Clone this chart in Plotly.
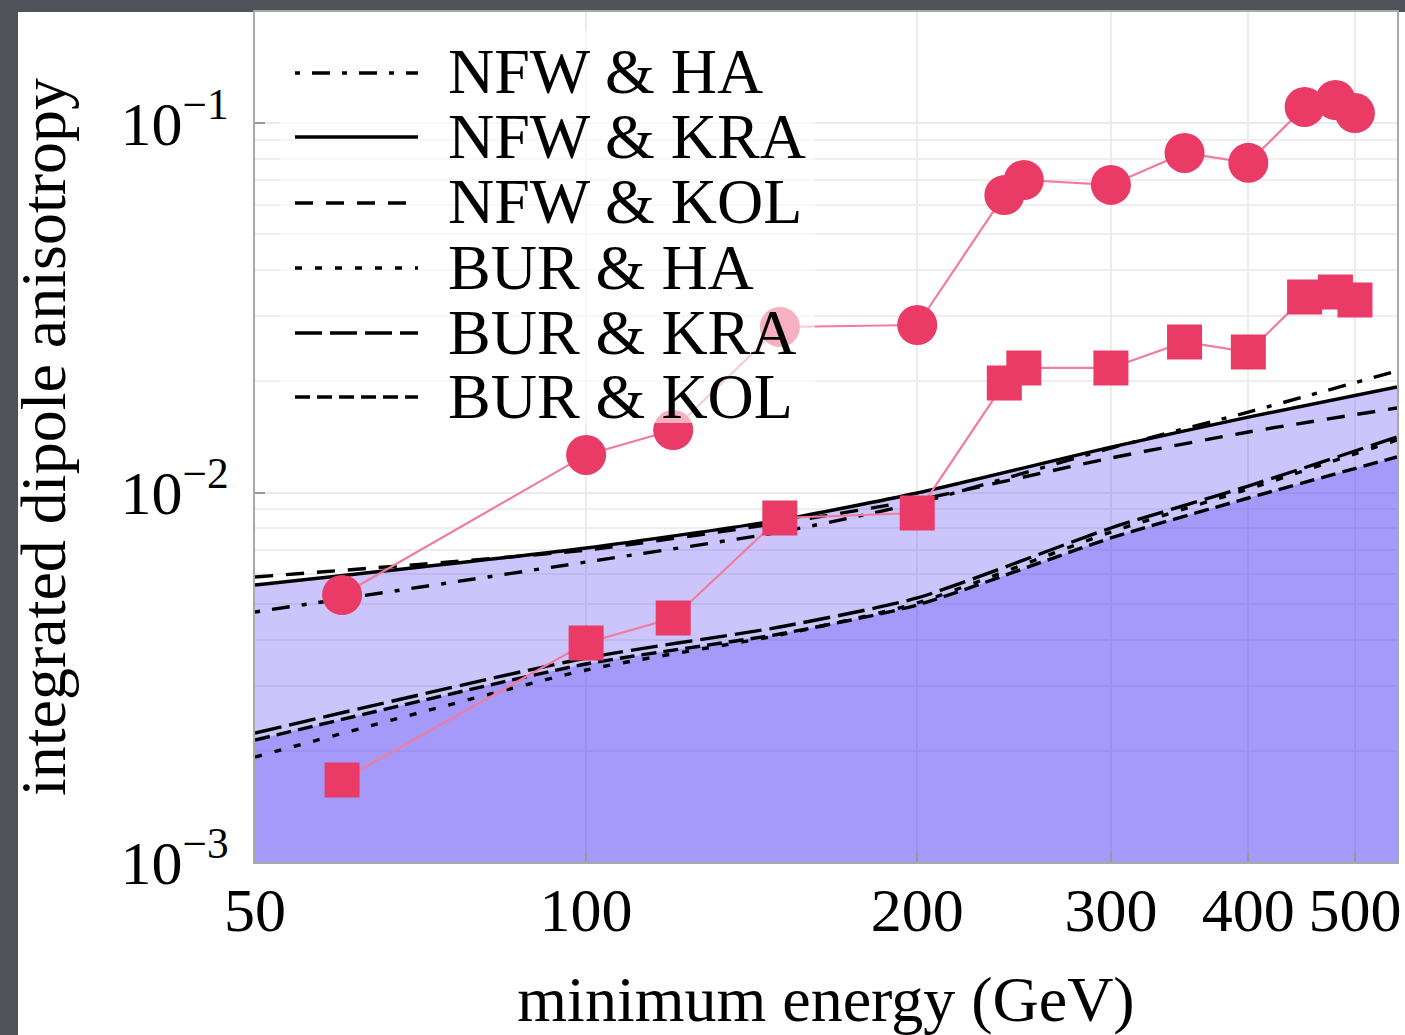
import plotly.graph_objects as go

# ---------------- data ----------------
energy_curve = [50, 100, 150, 200, 300, 400, 546]
nfw_ha  = [0.004749, 0.006484, 0.007816, 0.009367, 0.01319, 0.01651, 0.02132]
nfw_kra = [0.005618, 0.007075, 0.008424, 0.009968, 0.01327, 0.01600, 0.01930]
nfw_kol = [0.005906, 0.006988, 0.008270, 0.009543, 0.01240, 0.01458, 0.01693]
bur_ha  = [0.001924, 0.003308, 0.004114, 0.005023, 0.007816, 0.01022, 0.01387]
bur_kra = [0.002234, 0.003566, 0.004325, 0.005183, 0.008015, 0.01041, 0.01413]
bur_kol = [0.002139, 0.003435, 0.004141, 0.004961, 0.007532, 0.009663, 0.01248]

energy_pts = [60, 100, 120, 150, 200, 240, 250, 300, 350, 400, 450, 480, 500]
circles = [0.00528, 0.01264, 0.01476, 0.02805, 0.0284, 0.0638, 0.0701, 0.0680,
           0.0830, 0.0780, 0.1105, 0.1154, 0.1064]
squares = [0.001667, 0.003915, 0.004575, 0.00853, 0.00880, 0.01978, 0.02173,
           0.02173, 0.02555, 0.0240, 0.0338, 0.0349, 0.0332]

x_tickvals = [50, 100, 200, 300, 400, 500]
x_ticktext = ["50", "100", "200", "300", "400", "500"]
y_tickvals = [0.001, 0.01, 0.1]
y_ticktext = ["10<sup>\u22123</sup>", "10<sup>\u22122</sup>", "10<sup>\u22121</sup>"]
y_minor = [k * 10.0 ** e for e in (-3, -2, -1) for k in range(2, 10) if k * 10.0 ** e <= 0.2]

legend_names = ["NFW & HA", "NFW & KRA", "NFW & KOL", "BUR & HA", "BUR & KRA", "BUR & KOL"]

# ---------------- styles ----------------
FONT = "Liberation Serif"
FS = 62
W, H = 1405, 1035
L, R, T, B = 255, 8, 12, 173
PW, PH = W - L - R, H - T - B
BOTTOM = H - B  # pixel row of the x axis

def px_x(p):
    return (p - L) / PW

def px_y(p):
    return (BOTTOM - p) / PH

dashes = {
    "NFW & HA": "5px,12px,18px,12px",
    "NFW & KRA": "solid",
    "NFW & KOL": "18px,13px",
    "BUR & HA": "7px,13px",
    "BUR & KRA": "27px,8px",
    "BUR & KOL": "15px,7px",
}
curves = {
    "NFW & HA": nfw_ha, "NFW & KRA": nfw_kra, "NFW & KOL": nfw_kol,
    "BUR & HA": bur_ha, "BUR & KRA": bur_kra, "BUR & KOL": bur_kol,
}

PINK = "#EA3A66"
PINK_LINE = "#F07C9E"

fig = go.Figure()

# fills
fig.add_trace(go.Scatter(x=energy_curve, y=nfw_kra, mode="lines", line=dict(width=0, shape="spline", smoothing=0.6),
                         fill="tozeroy", fillcolor="rgba(100,80,245,0.335)", hoverinfo="skip", showlegend=False))
fig.add_trace(go.Scatter(x=energy_curve, y=bur_kol, mode="lines", line=dict(width=0, shape="spline", smoothing=0.6),
                         fill="tozeroy", fillcolor="rgba(100,80,245,0.37)", hoverinfo="skip", showlegend=False))

# model curves
for name in legend_names:
    fig.add_trace(go.Scatter(x=energy_curve, y=curves[name], mode="lines", name=name,
                             line=dict(color="black", width=3.4, dash=dashes[name], shape="spline", smoothing=0.6),
                             showlegend=False))

# data series
fig.add_trace(go.Scatter(x=energy_pts, y=circles, mode="lines+markers", name="circles",
                         line=dict(color=PINK_LINE, width=2.2),
                         marker=dict(symbol="circle", size=40, color=PINK, line=dict(width=0)),
                         showlegend=False))
fig.add_trace(go.Scatter(x=energy_pts, y=squares, mode="lines+markers", name="squares",
                         line=dict(color=PINK_LINE, width=2.2),
                         marker=dict(symbol="square", size=35, color=PINK, line=dict(width=0)),
                         showlegend=False))

shapes = []
# white page over dark background
shapes.append(dict(type="rect", xref="paper", yref="paper", layer="below",
                   x0=px_x(18), x1=px_x(W + 60), y0=px_y(H + 60), y1=px_y(12),
                   fillcolor="white", line=dict(width=0)))
# translucent legend box
shapes.append(dict(type="rect", xref="paper", yref="paper", layer="above",
                   x0=px_x(280), x1=px_x(815), y0=px_y(423), y1=px_y(30),
                   fillcolor="rgba(255,255,255,0.6)", line=dict(width=0)))

annotations = []
rows = [73, 137, 203, 268, 333, 397]
for name, ry in zip(legend_names, rows):
    shapes.append(dict(type="line", xref="paper", yref="paper", layer="above",
                       x0=px_x(295), x1=px_x(418), y0=px_y(ry), y1=px_y(ry),
                       line=dict(color="black", width=3.5, dash=dashes[name])))
    annotations.append(dict(xref="paper", yref="paper", x=px_x(446), y=px_y(ry - 1),
                            xanchor="left", yanchor="middle", showarrow=False,
                            text=name, font=dict(family=FONT, size=64, color="black")))

fig.update_layout(
    width=W, height=H,
    margin=dict(l=L, r=R, t=T, b=B, autoexpand=False),
    paper_bgcolor="#50525A",
    plot_bgcolor="white",
    shapes=shapes,
    annotations=annotations,
    xaxis=dict(type="log", range=[1.69897, 2.7372], tickvals=x_tickvals, ticktext=x_ticktext,
               automargin=False,
               tickfont=dict(family=FONT, size=FS, color="black"),
               showgrid=True, gridcolor="#EBEBEB", gridwidth=2, zeroline=False,
               ticks="inside", ticklen=10, tickcolor="#999999", tickwidth=2,
               showline=True, linecolor="#A8A8A8", linewidth=2, mirror=True,
               ticklabelstandoff=-7,
               title=dict(text="minimum energy (GeV)", font=dict(family=FONT, size=64, color="black"),
                          standoff=48)),
    yaxis=dict(type="log", range=[-3, -0.6996], tickvals=y_tickvals, ticktext=y_ticktext,
               automargin=False,
               tickfont=dict(family=FONT, size=FS, color="black"),
               showgrid=True, gridcolor="#EBEBEB", gridwidth=2, zeroline=False,
               ticks="inside", ticklen=10, tickcolor="#999999", tickwidth=2,
               showline=True, linecolor="#A8A8A8", linewidth=2, mirror=True,
               ticklabelstandoff=12,
               minor=dict(tickvals=y_minor, showgrid=True, gridcolor="#EEEEEE", gridwidth=2, ticks=""),
               title=dict(text="integrated dipole anisotropy", font=dict(family=FONT, size=64, color="black"),
                          standoff=34)),
)

fig.write_html("out.html")
